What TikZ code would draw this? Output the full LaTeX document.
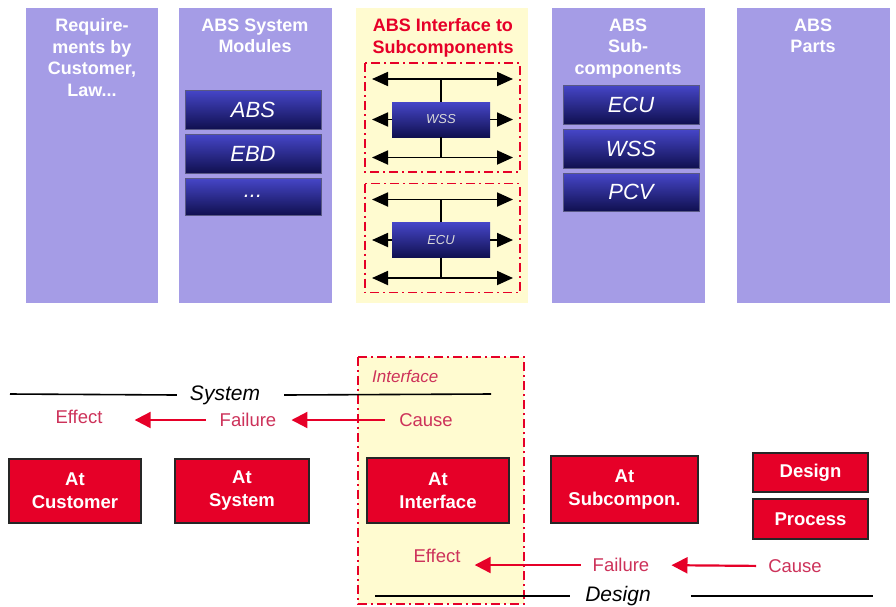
\documentclass[tikz,border=0pt]{standalone}
\usepackage{fontspec}
\setmainfont{Liberation Sans}
\usetikzlibrary{positioning, arrows.meta}

\definecolor{colfill}{RGB}{165,156,230}
\definecolor{ifcfill}{RGB}{255,251,208}
\definecolor{failred}{RGB}{230,0,40}
\definecolor{chainred}{RGB}{205,50,90}
\definecolor{modtop}{RGB}{70,70,200}
\definecolor{modbot}{RGB}{16,16,80}

\tikzset{
  column/.style={fill=colfill, draw=none},
  colhead/.style={anchor=north, align=center, text=white, font=\bfseries\fontsize{18}{21.5}\selectfont},
  modbox/.style={rectangle, top color=modtop, bottom color=modbot, draw=modbot!70,
    minimum width=136pt, text=white, font=\itshape\fontsize{22}{24}\selectfont},
  ifcbox/.style={rectangle, top color=modtop, bottom color=modbot, draw=none,
    minimum width=98pt, minimum height=35pt, text=white!85!black, font=\itshape\fontsize{13}{15}\selectfont},
  dashdot/.style={draw=failred, line width=1.8pt, dash pattern=on 9pt off 4pt on 2pt off 4pt},
  sig/.style={black, line width=1.8pt, {Triangle[length=16pt,width=14pt]}-{Triangle[length=16pt,width=14pt]}},
  sigend/.style={black, line width=1.8pt, -{Triangle[length=16pt,width=14pt]}},
  failbox/.style={rectangle, fill=failred, draw=black!85, line width=1.6pt, align=center,
    text=white, font=\bfseries\fontsize{18.5}{23}\selectfont},
  chain/.style={text=chainred, inner sep=0pt, font=\fontsize{18.5}{22}\selectfont},
  redarrow/.style={failred, line width=2.2pt, -{Triangle[length=16pt,width=16pt]}},
  level/.style={font=\itshape\fontsize{21}{24}\selectfont, inner sep=0pt},
  rule/.style={black, line width=1.6pt}
}

\begin{document}
\begin{tikzpicture}[x=1pt, y=-1pt]
    \useasboundingbox[fill=white] (0,0) rectangle (896,606);

    % columns
    \fill[column] (26,8) rectangle (158,303);
    \fill[column] (179,8) rectangle (332,303);
    \fill[ifcfill] (356,8) rectangle (528,303);
    \fill[column] (552,8) rectangle (705,303);
    \fill[column] (737,8) rectangle (890,303);

    \node[colhead] (hreq) at (92,15) {Require-\\ments by\\Customer,\\Law...};
    \node[colhead] (hsys) at (255,15) {ABS System\\Modules};
    \node[colhead, text=failred] (hifc) at (443,15) {ABS Interface to\\Subcomponents};
    \node[colhead] (hsub) at (628,15) {ABS\\Sub-\\components};
    \node[colhead] (hpart) at (813,15) {ABS\\Parts};

    % system modules
    \node[modbox, minimum height=39pt] (mABS) at (253,109.5) {ABS};
    \node[modbox, minimum height=39pt] (mEBD) at (253,153.5) {EBD};
    \node[modbox, minimum height=37pt] (mdots) at (253,196.5) {...};

    % subcomponents
    \node[modbox, minimum height=39pt] (sECU) at (631,104.5) {ECU};
    \node[modbox, minimum height=39pt] (sWSS) at (631,148.5) {WSS};
    \node[modbox, minimum height=38pt] (sPCV) at (631,192) {PCV};

    % interfaces
    \foreach \lbl/\yc in {WSS/119.5, ECU/240} {
        \draw[dashdot] (365,\yc-56.5) rectangle (520,\yc+52.5);
        \node[ifcbox] (box\lbl) at (441,\yc) {\lbl};
        \coordinate (tl\lbl) at (372,\yc-40.5);
        \coordinate (tr\lbl) at (513,\yc-40.5);
        \coordinate (bl\lbl) at (372,\yc+38);
        \coordinate (br\lbl) at (513,\yc+38);
        \coordinate (ml\lbl) at (372,\yc);
        \coordinate (mr\lbl) at (513,\yc);
        \draw[sig] (tl\lbl) -- (tr\lbl);
        \draw[sig] (bl\lbl) -- (br\lbl);
        \draw[rule, line width=1.8pt] (box\lbl.north) -- (box\lbl.north |- tl\lbl);
        \draw[rule, line width=1.8pt] (box\lbl.south) -- (box\lbl.south |- bl\lbl);
        \draw[sigend] (box\lbl.west) -- (ml\lbl);
        \draw[sigend] (box\lbl.east) -- (mr\lbl);
    }

    % interface band below
    \filldraw[fill=ifcfill, dashdot] (358,357) rectangle (524,604);
    \node[chain, anchor=west, font=\itshape\fontsize{17}{20}\selectfont] (ifclbl) at (372,376) {Interface};

    % system level
    \node[level] (system) at (225,395) {System};
    \coordinate (sysL) at (10,394);
    \coordinate (sysR) at (491,394);
    \draw[rule] (sysL) -- ([xshift=-13pt]system.west);
    \draw[rule] ([xshift=24pt]system.east) -- (sysR);

    \node[chain] (eff1) at (79,417) {Effect};
    \node[chain] (fail1) at (248,420) {Failure};
    \node[chain] (cause1) at (426,420) {Cause};
    \draw[redarrow, shorten <=14pt, shorten >=32pt] (fail1.west) -- (eff1.east |- fail1.west);
    \draw[redarrow, shorten <=14pt, shorten >=15pt] (cause1.west) -- (fail1.east);

    % failure locations
    \node[failbox, minimum width=132pt, minimum height=64pt] (atcust) at (75,491) {At\\Customer};
    \node[failbox, minimum width=134pt, minimum height=64pt] (atsys) at (242,491) {At\\System};
    \node[failbox, minimum width=142pt, minimum height=65pt] (atifc) at (438,490.5) {At\\Interface};
    \node[failbox, minimum width=147pt, minimum height=67pt] (atsub) at (624.5,489.5) {At\\Subcompon.};
    \node[failbox, minimum width=115pt, minimum height=39pt] (design) at (810.5,472.5) {Design};
    \node[failbox, minimum width=115pt, minimum height=40pt] (process) at (810.5,519) {Process};

    % design level
    \node[chain] (eff2) at (437,556) {Effect};
    \node[chain] (fail2) at (621,565) {Failure};
    \node[chain] (cause2) at (795,566) {Cause};
    \draw[redarrow, shorten <=12pt, shorten >=14pt] (fail2.west) -- (eff2.east |- fail2.west);
    \draw[redarrow, shorten <=12pt, shorten >=22pt] (cause2.west) -- (fail2.east);

    \node[level] (designlvl) at (618,596) {Design};
    \coordinate (desL) at (375,596);
    \coordinate (desR) at (873,596);
    \draw[rule] (desL) -- ([xshift=-15pt]designlvl.west);
    \draw[rule] ([xshift=40pt]designlvl.east) -- (desR);
\end{tikzpicture}
\end{document}
